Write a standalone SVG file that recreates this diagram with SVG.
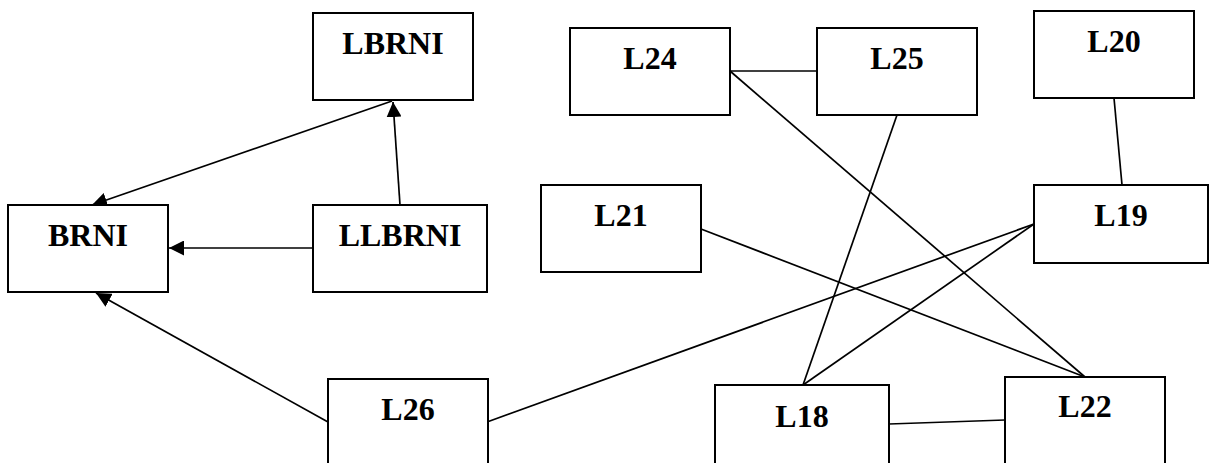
<svg xmlns="http://www.w3.org/2000/svg" width="1210" height="463" viewBox="0 0 1210 463">
  <style>
    .box { fill: #ffffff; stroke: #000000; stroke-width: 2; }
    .label { font-family: "Liberation Serif", "Times New Roman", serif; font-weight: bold; font-size: 32px; fill: #000000; text-anchor: middle; }
    .link { stroke: #000000; stroke-width: 1.7; fill: none; }
    .arrow { marker-end: url(#head); }
  </style>
  <defs>
    <marker id="head" viewBox="0 0 15 15" refX="15" refY="7.5" markerWidth="15" markerHeight="15" markerUnits="userSpaceOnUse" orient="auto">
      <path d="M0,0 L15,7.5 L0,15 z" fill="#000000"/>
    </marker>
  </defs>
  <rect width="1210" height="463" fill="#ffffff"/>

  <!-- connectors -->
  <g id="connectors">
    <line class="link arrow" x1="392" y1="101" x2="92" y2="205"/>
    <line class="link arrow" x1="400" y1="205" x2="393" y2="102"/>
    <line class="link arrow" x1="313" y1="248" x2="169" y2="248"/>
    <line class="link arrow" x1="328" y1="422" x2="96" y2="293"/>
    <line class="link" x1="730" y1="71" x2="817" y2="71"/>
    <line class="link" x1="730" y1="71" x2="1085" y2="377"/>
    <line class="link" x1="897" y1="115" x2="803" y2="385"/>
    <line class="link" x1="1114" y1="98" x2="1122" y2="185"/>
    <line class="link" x1="701" y1="229" x2="1085" y2="377"/>
    <line class="link" x1="1034" y1="224" x2="487" y2="422"/>
    <line class="link" x1="1034" y1="224" x2="803" y2="385"/>
    <line class="link" x1="889" y1="424" x2="1005" y2="420"/>
  </g>

  <!-- nodes -->
  <g id="LBRNI">
    <rect class="box" x="313" y="13" width="160" height="87"/>
    <text class="label" x="393" y="54">LBRNI</text>
  </g>
  <g id="BRNI">
    <rect class="box" x="8" y="205" width="160" height="87"/>
    <text class="label" x="88" y="246">BRNI</text>
  </g>
  <g id="LLBRNI">
    <rect class="box" x="313" y="205" width="174" height="87"/>
    <text class="label" x="400" y="246">LLBRNI</text>
  </g>
  <g id="L26">
    <rect class="box" x="328" y="379" width="160" height="100"/>
    <text class="label" x="408" y="420">L26</text>
  </g>
  <g id="L24">
    <rect class="box" x="570" y="28" width="160" height="87"/>
    <text class="label" x="650" y="69">L24</text>
  </g>
  <g id="L25">
    <rect class="box" x="817" y="28" width="160" height="87"/>
    <text class="label" x="897" y="69">L25</text>
  </g>
  <g id="L20">
    <rect class="box" x="1034" y="11" width="160" height="87"/>
    <text class="label" x="1114" y="52">L20</text>
  </g>
  <g id="L21">
    <rect class="box" x="541" y="185" width="160" height="87"/>
    <text class="label" x="621" y="226">L21</text>
  </g>
  <g id="L19">
    <rect class="box" x="1034" y="185" width="174" height="78"/>
    <text class="label" x="1121" y="226">L19</text>
  </g>
  <g id="L18">
    <rect class="box" x="715" y="385" width="174" height="100"/>
    <text class="label" x="802" y="427">L18</text>
  </g>
  <g id="L22">
    <rect class="box" x="1005" y="377" width="160" height="100"/>
    <text class="label" x="1085" y="417">L22</text>
  </g>
</svg>
